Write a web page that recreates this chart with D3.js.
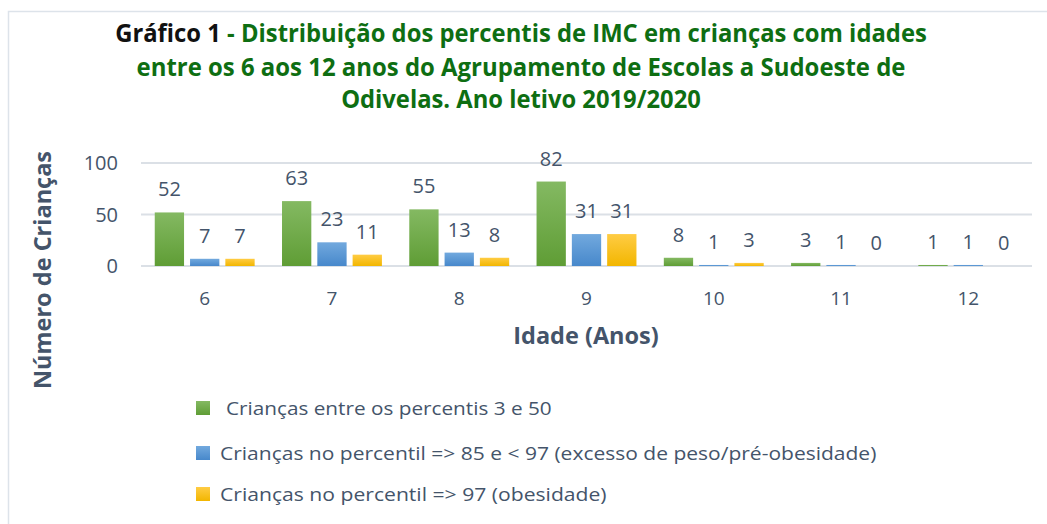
<!DOCTYPE html>
<html>
<head>
<meta charset="utf-8">
<script src="https://cdn.jsdelivr.net/npm/d3@7"></script>
<style>
  body { margin: 0; background: #fff; }
  svg { font-family: "Open Sans", sans-serif; }
</style>
</head>
<body>
<div id="chart"></div>
<script>
const ages = ["6", "7", "8", "9", "10", "11", "12"];
const seriesNames = [
  "Crianças entre os percentis 3 e 50",
  "Crianças no percentil => 85 e < 97 (excesso de peso/pré-obesidade)",
  "Crianças no percentil => 97 (obesidade)"
];
const normal = [52, 63, 55, 82, 8, 3, 1];
const excesso = [7, 23, 13, 31, 1, 1, 1];
const obesidade = [7, 11, 8, 31, 3, 0, 0];
const yTicks = [0, 50, 100];

const series = [normal, excesso, obesidade];
const colors = [["#84b962", "#5f9d35"], ["#72a9de", "#4788cb"], ["#ffcc44", "#f2b600"]];
const textColor = "#44546a";

const width = 1047, height = 524;
const margin = { left: 141, right: 15 };

const svg = d3.select("#chart").append("svg")
  .attr("width", width)
  .attr("height", height);

// stretch a text element horizontally to a target width
function fitWidth(t, w, anchorX) {
  const len = t.node().getComputedTextLength();
  t.attr("transform", `translate(${anchorX},0) scale(${w / len},1)`);
}

// gradients for the bars
const defs = svg.append("defs");
colors.forEach((c, i) => {
  const g = defs.append("linearGradient")
    .attr("id", "grad" + i)
    .attr("x1", 0).attr("y1", 0).attr("x2", 0).attr("y2", 1);
  g.append("stop").attr("offset", "0%").attr("stop-color", c[0]);
  g.append("stop").attr("offset", "100%").attr("stop-color", c[1]);
});

// outer frame (only top and left visible)
svg.append("path")
  .attr("d", `M8.5,${height + 5} V11.5 H${width + 5}`)
  .attr("fill", "none")
  .attr("stroke", "#dde3ea")
  .attr("stroke-width", 1.5);

// scales
const x0 = d3.scaleBand()
  .domain(ages)
  .range([margin.left, width - margin.right])
  .paddingInner(0.215)
  .paddingOuter(0.108);

const x1 = d3.scaleBand()
  .domain([0, 1, 2])
  .range([0, x0.bandwidth()])
  .paddingInner(0.17);

const y = d3.scaleLinear()
  .domain([0, 100])
  .range([266, 163]);

// gridlines
svg.append("g")
  .selectAll("line")
  .data(yTicks)
  .join("line")
  .attr("x1", margin.left)
  .attr("x2", width - margin.right)
  .attr("y1", d => y(d))
  .attr("y2", d => y(d))
  .attr("stroke", "#dbe0e6")
  .attr("stroke-width", 2);

// y axis labels
svg.append("g")
  .selectAll("text")
  .data(yTicks)
  .join("text")
  .attr("x", 118)
  .attr("y", d => y(d))
  .attr("dy", "0.35em")
  .attr("text-anchor", "end")
  .attr("fill", textColor)
  .style("font-size", "20px")
  .text(d => d);

// bars
const groups = svg.append("g")
  .selectAll("g")
  .data(ages)
  .join("g")
  .attr("transform", d => `translate(${x0(d)},0)`);

groups.selectAll("rect")
  .data((d, i) => series.map((s, k) => ({ k, v: s[i] })))
  .join("rect")
  .attr("x", d => x1(d.k))
  .attr("width", x1.bandwidth())
  .attr("y", d => y(d.v))
  .attr("height", d => y(0) - y(d.v))
  .attr("fill", d => `url(#grad${d.k})`);

groups.selectAll("text")
  .data((d, i) => series.map((s, k) => ({ k, v: s[i] })))
  .join("text")
  .attr("x", d => x1(d.k) + x1.bandwidth() / 2)
  .attr("y", d => y(d.v) - 16)
  .attr("text-anchor", "middle")
  .attr("fill", textColor)
  .style("font-size", "20px")
  .text(d => d.v);

// x tick labels
svg.append("g")
  .selectAll("text")
  .data(ages)
  .join("text")
  .attr("x", d => x0(d) + x0.bandwidth() / 2)
  .attr("y", 305)
  .attr("text-anchor", "middle")
  .attr("fill", textColor)
  .style("font-size", "19px")
  .text(d => d);

// axis titles
svg.append("text")
  .attr("x", 586)
  .attr("y", 344)
  .attr("text-anchor", "middle")
  .attr("fill", textColor)
  .style("font-size", "23.5px")
  .style("font-weight", "bold")
  .text("Idade (Anos)");

svg.append("text")
  .attr("transform", "translate(51,270) rotate(-90)")
  .attr("text-anchor", "middle")
  .attr("fill", textColor)
  .style("font-size", "23.5px")
  .style("font-weight", "bold")
  .text("Número de Crianças");

// title (condensed look by horizontal scaling)
const titleLines = [
  { y: 42, w: 812, parts: [["Gráfico 1 ", "#111"], ["- Distribuição dos percentis de IMC em crianças com idades", "#0e6e12"]] },
  { y: 76, w: 769, parts: [["entre os 6 aos 12 anos do Agrupamento de Escolas a Sudoeste de", "#0e6e12"]] },
  { y: 108, w: 360, parts: [["Odivelas. Ano letivo 2019/2020", "#0e6e12"]] }
];
titleLines.forEach(line => {
  const t = svg.append("text")
    .attr("x", 0)
    .attr("y", line.y)
    .attr("text-anchor", "middle")
    .style("font-size", "25px")
    .style("font-weight", "bold");
  line.parts.forEach(p => t.append("tspan").attr("fill", p[1]).text(p[0]));
  fitWidth(t, line.w, 521);
});

// legend
const legendY = [408, 453, 494];
const legendX = [226, 220, 220];
const legendW = [326, 657, 387];
seriesNames.forEach((name, i) => {
  svg.append("rect")
    .attr("x", 196)
    .attr("y", legendY[i] - 7)
    .attr("width", 14)
    .attr("height", 14)
    .attr("fill", `url(#grad${i})`);
  const t = svg.append("text")
    .attr("x", 0)
    .attr("y", legendY[i])
    .attr("dy", "0.35em")
    .attr("fill", textColor)
    .style("font-size", "19px")
    .text(name);
  fitWidth(t, legendW[i], legendX[i]);
});
</script>
</body>
</html>
